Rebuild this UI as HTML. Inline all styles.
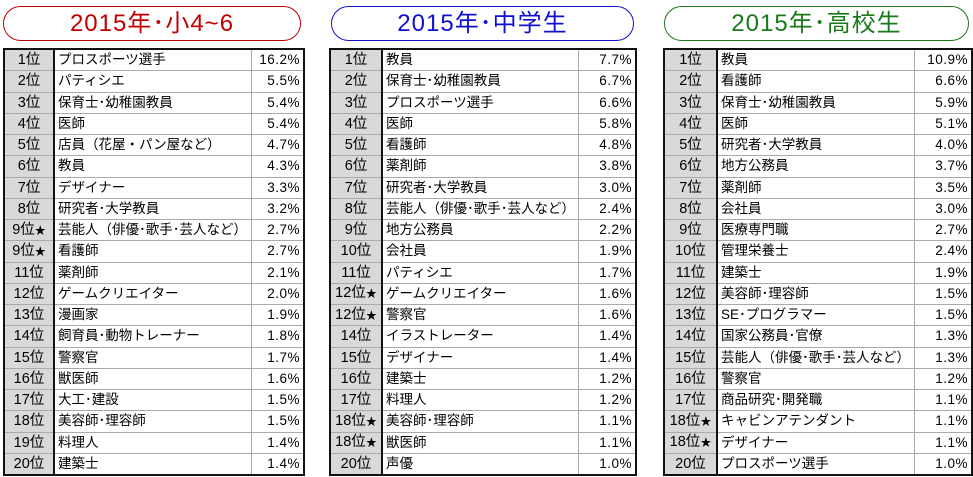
<!DOCTYPE html>
<html><head><meta charset="utf-8"><style>
body{margin:0;width:973px;height:477px;background:#fff;overflow:hidden;position:relative;font-family:"Liberation Sans","Noto Sans CJK JP",sans-serif;}
.h{position:absolute;top:6px;height:33px;border:1.5px solid;border-radius:18px;text-align:center;font-size:24px;line-height:33px;letter-spacing:1px;}
table{position:absolute;top:48px;border-collapse:collapse;border:2px solid #111;font-size:13.5px;table-layout:fixed;}
td{height:20.25px;line-height:16px;padding:0 3px;border-top:1px solid #aaa;border-bottom:1px solid #aaa;white-space:nowrap;overflow:hidden;}
td.r{background:#d9d9d9;text-align:center;border-right:2px solid #111;font-size:14.5px;}
td.r small{font-size:11px;}
td.n{border-right:1px solid #aaa;}
td.p{text-align:right;letter-spacing:0.5px;}
</style></head><body>
<div class="h" style="left:3px;width:296px;border-color:#c00000;color:#c00000">2015年･小4~6</div>
<div class="h" style="left:331px;width:301px;border-color:#1010d0;color:#1010d0">2015年･中学生</div>
<div class="h" style="left:664px;width:303px;border-color:#1a7a1a;color:#1a7a1a">2015年･高校生</div>

<table style="left:3px;width:300px"><colgroup><col style="width:50px"><col style="width:197px"><col style="width:53px"></colgroup>
<tr><td class="r">1位</td><td class="n">プロスポーツ選手</td><td class="p">16.2%</td></tr>
<tr><td class="r">2位</td><td class="n">パティシエ</td><td class="p">5.5%</td></tr>
<tr><td class="r">3位</td><td class="n">保育士･幼稚園教員</td><td class="p">5.4%</td></tr>
<tr><td class="r">4位</td><td class="n">医師</td><td class="p">5.4%</td></tr>
<tr><td class="r">5位</td><td class="n">店員（花屋・パン屋など）</td><td class="p">4.7%</td></tr>
<tr><td class="r">6位</td><td class="n">教員</td><td class="p">4.3%</td></tr>
<tr><td class="r">7位</td><td class="n">デザイナー</td><td class="p">3.3%</td></tr>
<tr><td class="r">8位</td><td class="n">研究者･大学教員</td><td class="p">3.2%</td></tr>
<tr><td class="r">9位<small>★</small></td><td class="n">芸能人（俳優･歌手･芸人など）</td><td class="p">2.7%</td></tr>
<tr><td class="r">9位<small>★</small></td><td class="n">看護師</td><td class="p">2.7%</td></tr>
<tr><td class="r">11位</td><td class="n">薬剤師</td><td class="p">2.1%</td></tr>
<tr><td class="r">12位</td><td class="n">ゲームクリエイター</td><td class="p">2.0%</td></tr>
<tr><td class="r">13位</td><td class="n">漫画家</td><td class="p">1.9%</td></tr>
<tr><td class="r">14位</td><td class="n">飼育員･動物トレーナー</td><td class="p">1.8%</td></tr>
<tr><td class="r">15位</td><td class="n">警察官</td><td class="p">1.7%</td></tr>
<tr><td class="r">16位</td><td class="n">獣医師</td><td class="p">1.6%</td></tr>
<tr><td class="r">17位</td><td class="n">大工･建設</td><td class="p">1.5%</td></tr>
<tr><td class="r">18位</td><td class="n">美容師･理容師</td><td class="p">1.5%</td></tr>
<tr><td class="r">19位</td><td class="n">料理人</td><td class="p">1.4%</td></tr>
<tr><td class="r">20位</td><td class="n">建築士</td><td class="p">1.4%</td></tr>
</table>

<table style="left:329px;width:306px"><colgroup><col style="width:52px"><col style="width:196px"><col style="width:58px"></colgroup>
<tr><td class="r">1位</td><td class="n">教員</td><td class="p">7.7%</td></tr>
<tr><td class="r">2位</td><td class="n">保育士･幼稚園教員</td><td class="p">6.7%</td></tr>
<tr><td class="r">3位</td><td class="n">プロスポーツ選手</td><td class="p">6.6%</td></tr>
<tr><td class="r">4位</td><td class="n">医師</td><td class="p">5.8%</td></tr>
<tr><td class="r">5位</td><td class="n">看護師</td><td class="p">4.8%</td></tr>
<tr><td class="r">6位</td><td class="n">薬剤師</td><td class="p">3.8%</td></tr>
<tr><td class="r">7位</td><td class="n">研究者･大学教員</td><td class="p">3.0%</td></tr>
<tr><td class="r">8位</td><td class="n">芸能人（俳優･歌手･芸人など）</td><td class="p">2.4%</td></tr>
<tr><td class="r">9位</td><td class="n">地方公務員</td><td class="p">2.2%</td></tr>
<tr><td class="r">10位</td><td class="n">会社員</td><td class="p">1.9%</td></tr>
<tr><td class="r">11位</td><td class="n">パティシエ</td><td class="p">1.7%</td></tr>
<tr><td class="r">12位<small>★</small></td><td class="n">ゲームクリエイター</td><td class="p">1.6%</td></tr>
<tr><td class="r">12位<small>★</small></td><td class="n">警察官</td><td class="p">1.6%</td></tr>
<tr><td class="r">14位</td><td class="n">イラストレーター</td><td class="p">1.4%</td></tr>
<tr><td class="r">15位</td><td class="n">デザイナー</td><td class="p">1.4%</td></tr>
<tr><td class="r">16位</td><td class="n">建築士</td><td class="p">1.2%</td></tr>
<tr><td class="r">17位</td><td class="n">料理人</td><td class="p">1.2%</td></tr>
<tr><td class="r">18位<small>★</small></td><td class="n">美容師･理容師</td><td class="p">1.1%</td></tr>
<tr><td class="r">18位<small>★</small></td><td class="n">獣医師</td><td class="p">1.1%</td></tr>
<tr><td class="r">20位</td><td class="n">声優</td><td class="p">1.0%</td></tr>
</table>

<table style="left:663px;width:308px"><colgroup><col style="width:53px"><col style="width:197px"><col style="width:58px"></colgroup>
<tr><td class="r">1位</td><td class="n">教員</td><td class="p">10.9%</td></tr>
<tr><td class="r">2位</td><td class="n">看護師</td><td class="p">6.6%</td></tr>
<tr><td class="r">3位</td><td class="n">保育士･幼稚園教員</td><td class="p">5.9%</td></tr>
<tr><td class="r">4位</td><td class="n">医師</td><td class="p">5.1%</td></tr>
<tr><td class="r">5位</td><td class="n">研究者･大学教員</td><td class="p">4.0%</td></tr>
<tr><td class="r">6位</td><td class="n">地方公務員</td><td class="p">3.7%</td></tr>
<tr><td class="r">7位</td><td class="n">薬剤師</td><td class="p">3.5%</td></tr>
<tr><td class="r">8位</td><td class="n">会社員</td><td class="p">3.0%</td></tr>
<tr><td class="r">9位</td><td class="n">医療専門職</td><td class="p">2.7%</td></tr>
<tr><td class="r">10位</td><td class="n">管理栄養士</td><td class="p">2.4%</td></tr>
<tr><td class="r">11位</td><td class="n">建築士</td><td class="p">1.9%</td></tr>
<tr><td class="r">12位</td><td class="n">美容師･理容師</td><td class="p">1.5%</td></tr>
<tr><td class="r">13位</td><td class="n">SE･プログラマー</td><td class="p">1.5%</td></tr>
<tr><td class="r">14位</td><td class="n">国家公務員･官僚</td><td class="p">1.3%</td></tr>
<tr><td class="r">15位</td><td class="n">芸能人（俳優･歌手･芸人など）</td><td class="p">1.3%</td></tr>
<tr><td class="r">16位</td><td class="n">警察官</td><td class="p">1.2%</td></tr>
<tr><td class="r">17位</td><td class="n">商品研究･開発職</td><td class="p">1.1%</td></tr>
<tr><td class="r">18位<small>★</small></td><td class="n">キャビンアテンダント</td><td class="p">1.1%</td></tr>
<tr><td class="r">18位<small>★</small></td><td class="n">デザイナー</td><td class="p">1.1%</td></tr>
<tr><td class="r">20位</td><td class="n">プロスポーツ選手</td><td class="p">1.0%</td></tr>
</table>
</body></html>
